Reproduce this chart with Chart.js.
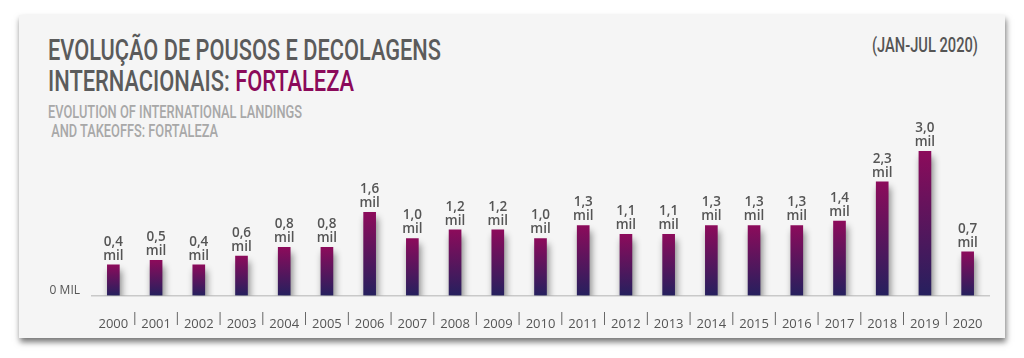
<!DOCTYPE html>
<html>
<head>
<meta charset="utf-8">
<script src="https://cdn.jsdelivr.net/npm/chart.js@4"></script>
<style>
  html, body { margin: 0; background: #fff; }
  body { width: 1024px; height: 358px; position: relative; overflow: hidden; }
  .card {
    position: absolute; left: 19px; top: 15px; width: 986px; height: 323px;
    background: #f5f5f5; box-shadow: 1px 4px 6px rgba(0,0,0,.55);
  }
  .t { position: absolute; white-space: nowrap; line-height: 1;
       font-family: Roboto, "DejaVu Sans", sans-serif; transform-origin: left top; }
  #title1, #title2 { left: 48px; font-size: 29px; font-weight: 500; color: #5b5b5b; }
  #title1 { top: 36px; }
  #title2 { top: 67px; }
  #title2 span { color: #8b0a5a; }
  #sub1, #sub2 { left: 48px; font-size: 17.5px; font-weight: 500; color: #a8a8a8; }
  #sub1 { top: 104px; }
  #sub2 { top: 123px; }
  #period { left: 872px; top: 36px; font-size: 19.5px; font-weight: 500; color: #555; }
  canvas { position: absolute; left: 0; top: 0; }
</style>
</head>
<body>
<div class="card"></div>
<div class="t" id="title1" data-w="393">EVOLUÇÃO DE POUSOS E DECOLAGENS</div>
<div class="t" id="title2" data-w="306">INTERNACIONAIS: <span>FORTALEZA</span></div>
<div class="t" id="sub1" data-w="254">EVOLUTION OF INTERNATIONAL LANDINGS</div>
<div class="t" id="sub2" data-w="170">&nbsp;AND TAKEOFFS: FORTALEZA</div>
<div class="t" id="period" data-w="106">(JAN-JUL 2020)</div>
<canvas id="chart" width="1024" height="358"></canvas>
<script>
const years = ["2000","2001","2002","2003","2004","2005","2006","2007","2008","2009",
  "2010","2011","2012","2013","2014","2015","2016","2017","2018","2019","2020"];
// thousands of movements
const movements = [0.4,0.5,0.4,0.6,0.8,0.8,1.6,1.0,1.2,1.2,1.0,1.3,1.1,1.1,1.3,1.3,1.3,1.4,2.3,3.0,0.7];
const valueLabels = ["0,4","0,5","0,4","0,6","0,8","0,8","1,6","1,0","1,2","1,2",
  "1,0","1,3","1,1","1,1","1,3","1,3","1,3","1,4","2,3","3,0","0,7"];
const axisLabel = "0 MIL";

// squeeze the heading text to the condensed look of the original
document.querySelectorAll(".t[data-w]").forEach(el => {
  const w = el.getBoundingClientRect().width;
  el.style.transform = "scaleX(" + (parseFloat(el.dataset.w) / w) + ")";
});

function barGradient(context) {
  const chart = context.chart;
  const area = chart.chartArea;
  if (!area) return "#8b0a5a";
  const top = chart.scales.y.getPixelForValue(context.raw);
  const g = chart.ctx.createLinearGradient(0, top, 0, area.bottom);
  g.addColorStop(0, "#8c0b5b");
  g.addColorStop(1, "#26205e");
  return g;
}

const decor = {
  id: "decor",
  beforeDatasetsDraw(chart) {
    const ctx = chart.ctx;
    ctx.save();
    ctx.shadowColor = "rgba(0,0,0,0.45)";
    ctx.shadowBlur = 7;
    ctx.shadowOffsetX = 2;
    ctx.shadowOffsetY = 6;
  },
  afterDatasetsDraw(chart) {
    const ctx = chart.ctx;
    ctx.restore();
    const meta = chart.getDatasetMeta(0);
    const x = chart.scales.x;
    const area = chart.chartArea;
    ctx.save();
    ctx.fillStyle = "#555";
    ctx.textAlign = "center";
    ctx.textBaseline = "middle";
    ctx.font = "600 13.5px 'Open Sans', sans-serif";
    meta.data.forEach((bar, i) => {
      ctx.fillText(valueLabels[i], bar.x, bar.y - 23);
      ctx.fillText("mil", bar.x, bar.y - 9);
    });
    // separators between year labels
    ctx.font = "13px 'Open Sans', sans-serif";
    const ly = area.bottom + 23;
    for (let i = 0; i < years.length - 1; i++) {
      const mx = (x.getPixelForValue(i) + x.getPixelForValue(i + 1)) / 2;
      ctx.fillText("|", mx, ly);
    }
    // baseline label
    ctx.textAlign = "right";
    ctx.font = "12px 'Open Sans', sans-serif";
    ctx.fillText(axisLabel, 80, area.bottom - 5);
    ctx.restore();
  }
};

new Chart(document.getElementById("chart"), {
  type: "bar",
  data: {
    labels: years,
    datasets: [{
      data: movements,
      base: -0.3,
      backgroundColor: barGradient,
      barThickness: 12
    }]
  },
  options: {
    responsive: false,
    animation: false,
    layout: { padding: { left: 92, right: 35, top: 125, bottom: 13 } },
    plugins: { legend: { display: false }, tooltip: { enabled: false } },
    scales: {
      y: { display: false, min: -0.3, max: 3.6 },
      x: {
        offset: true,
        grid: { display: false },
        border: { color: "#c9c9c9", width: 1.5 },
        ticks: {
          color: "#555",
          font: { family: "'Open Sans', sans-serif", size: 13 },
          padding: 13,
          maxRotation: 0,
          autoSkip: false
        }
      }
    }
  },
  plugins: [decor]
});
</script>
</body>
</html>
